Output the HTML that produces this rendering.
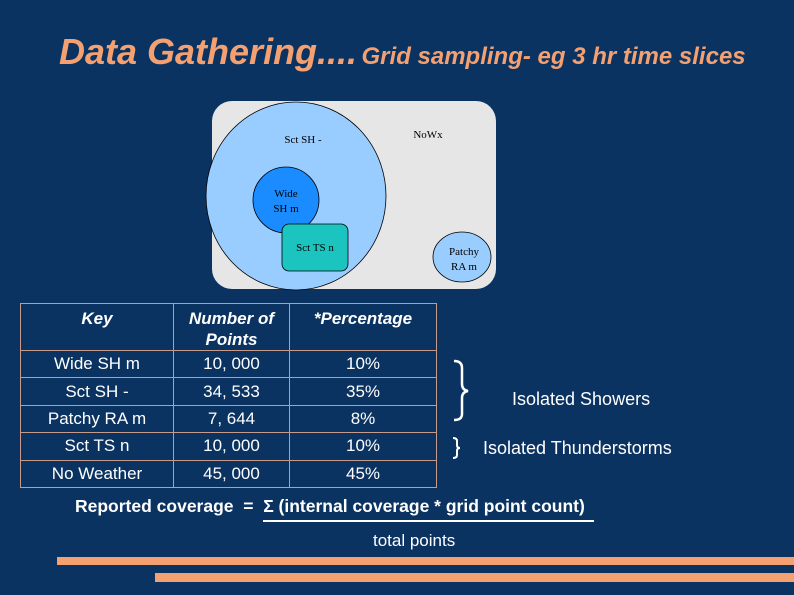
<!DOCTYPE html>
<html><head><meta charset="utf-8"><style>
body{margin:0;width:794px;height:595px;background:#0b3361;overflow:hidden;position:relative;font-family:"Liberation Sans",sans-serif;color:#fff}
.a{position:absolute}
table{position:absolute;left:20px;top:303px;border-collapse:collapse;width:417px}
td{border:1px solid #c89a8a;text-align:center;font-size:17px;padding:0;height:26.4px}
th{border:1px solid #c89a8a;font-style:italic;font-size:17px;font-weight:bold;vertical-align:top;height:42px;padding:4px 0 0 0;line-height:21px}
</style></head><body>
<div class="a" style="left:59px;top:31px;color:#f4a070;font-style:italic;font-weight:bold;white-space:nowrap"><span style="font-size:36px">Data Gathering....</span> <span style="font-size:24px">Grid sampling- eg 3 hr time slices</span></div>
<svg class="a" style="left:0;top:0" width="794" height="595">
<rect x="212" y="101" width="284" height="188" rx="20" fill="#e6e6e6"/>
<ellipse cx="296" cy="196" rx="90" ry="94" fill="#99ccff" stroke="#000" stroke-width="0.8"/>
<circle cx="286" cy="200" r="33" fill="#1a8cff" stroke="#000" stroke-width="0.8"/>
<rect x="282" y="224" width="66" height="47" rx="7" fill="#1cc4c0" stroke="#000" stroke-width="0.8"/>
<ellipse cx="462" cy="257" rx="29" ry="25" fill="#99ccff" stroke="#000" stroke-width="0.8"/>
<g font-family="Liberation Serif,serif" font-size="11" fill="#000" text-anchor="middle">
<text x="303" y="143">Sct SH -</text><text x="428" y="138">NoWx</text>
<text x="286" y="197">Wide</text><text x="286" y="212">SH m</text>
<text x="315" y="251">Sct TS n</text>
<text x="464" y="255">Patchy</text><text x="464" y="270">RA m</text></g>
<path d="M454 361 Q462 361 462 368 L462 384 Q462 390 468 391 Q462 392 462 398 L462 414 Q462 420 454 420" fill="none" stroke="#fff" stroke-width="2.5"/>
<path d="M453 438 Q457 438 457 441 L457 445 Q457 448 460 448 Q457 448 457 451 L457 455 Q457 458 453 458" fill="none" stroke="#fff" stroke-width="2"/>
<line x1="263" y1="521" x2="594" y2="521" stroke="#fff" stroke-width="2"/>
<rect x="57" y="557" width="737" height="8" fill="#f4a070"/>
<rect x="155" y="573" width="639" height="9" fill="#f4a070"/>
</svg>
<table>
<tr><th style="width:152px">Key</th><th style="width:115px">Number of<br>Points</th><th>*Percentage</th></tr>
<tr><td>Wide SH m</td><td>10, 000</td><td>10%</td></tr>
<tr><td>Sct SH -</td><td>34, 533</td><td>35%</td></tr>
<tr><td>Patchy RA m</td><td>7, 644</td><td>8%</td></tr>
<tr><td>Sct TS n</td><td>10, 000</td><td>10%</td></tr>
<tr><td>No Weather</td><td>45, 000</td><td>45%</td></tr>
</table>
<div class="a" style="left:512px;top:389px;font-size:18px">Isolated Showers</div>
<div class="a" style="left:483px;top:438px;font-size:18px">Isolated Thunderstorms</div>
<div class="a" style="left:75px;top:496px;font-size:17.5px;font-weight:bold;white-space:nowrap">Reported coverage&nbsp; = &nbsp;Σ (internal coverage * grid point count)</div>
<div class="a" style="left:373px;top:531px;font-size:17px">total points</div>
</body></html>
